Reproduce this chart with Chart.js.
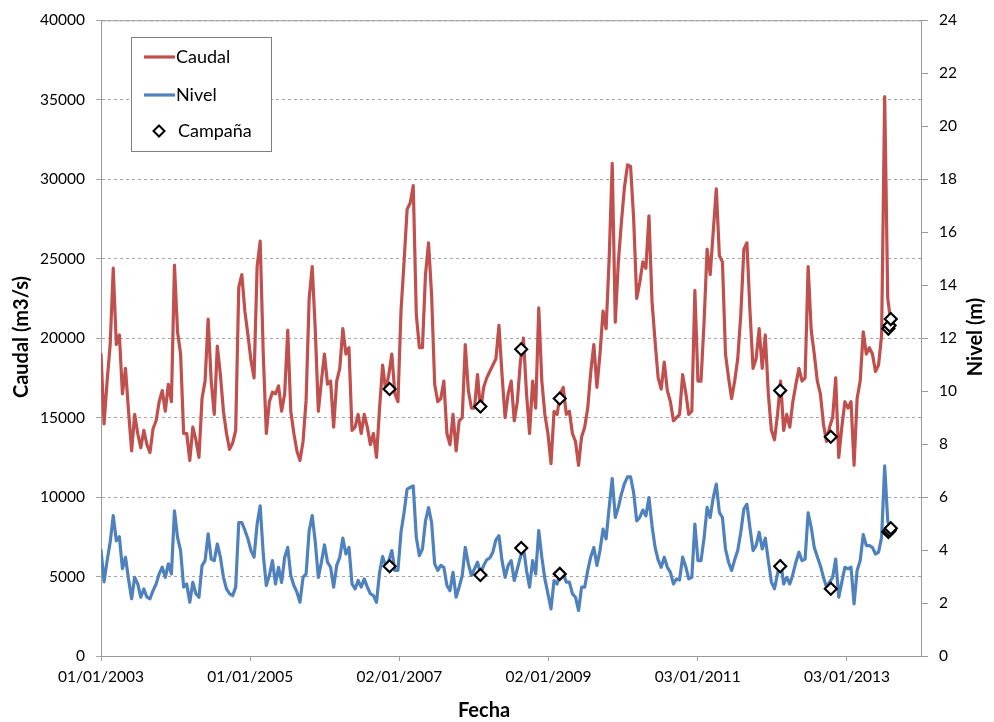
<!DOCTYPE html>
<html>
<head>
<meta charset="utf-8">
<title>Caudal y Nivel</title>
<script src="https://cdn.jsdelivr.net/npm/chart.js@4"></script>
<style>
    body { margin: 0; background: #fff; }
</style>
</head>
<body>
<canvas id="main-chart" width="994" height="722"></canvas>
<script>
// Data (one value every 15 days from 01/01/2003)
const fechaInicio = '2003-01-01';
const pasoDias = 15;

const caudal = [
    19000, 14600, 17300, 19600, 24400, 19600, 20200, 16500, 18100, 15400,
    12900, 15200, 14000, 13100, 14200, 13300, 12800, 14300, 14800, 16000,
    16700, 15400, 17100, 16000, 24600, 20400, 19000, 14000, 14000, 12300,
    14400, 13600, 12500, 16200, 17300, 21200, 17300, 15200, 19500, 17700,
    15400, 14000, 13000, 13400, 14200, 23200, 24000, 21700, 20200, 18600,
    17500, 24500, 26100, 19000, 14000, 16000, 16600, 16500, 17000, 15400,
    16500, 20500, 15400, 14000, 12900, 12300, 13500, 16100, 22500, 24500,
    20500, 15400, 17300, 19000, 17100, 17300, 14400, 17300, 18100, 20600,
    19000, 19400, 14200, 14400, 15200, 14000, 15200, 14400, 13300, 14000,
    12500, 15600, 18300, 16700, 17700, 19000, 16500, 16000, 21700, 24800,
    28100, 28500, 29600, 21500, 19400, 19400, 24000, 26000, 22700, 17100,
    16000, 16200, 17300, 14000, 13300, 15200, 12900, 14800, 15000, 19600,
    16700, 15600, 15600, 17700, 15400, 16900, 17500, 17900, 18300, 18700,
    20800, 17700, 15000, 16500, 17300, 14800, 16000, 18500, 20000, 16500,
    14000, 17300, 15600, 21900, 17300, 15200, 14000, 12100, 15400, 15200,
    16500, 16900, 15200, 15400, 14000, 13500, 12000, 13800, 14400, 15600,
    17900, 19600, 16900, 19000, 21700, 20600, 25000, 31000, 21000, 24800,
    27300, 29500, 30900, 30800, 27500, 22500, 23500, 24800, 24400, 27700,
    22300, 19800, 17500, 16800, 18500, 16700, 16000, 14800, 15000, 15200,
    17700, 16600, 15200, 15400, 23000, 17300, 17300, 21000, 25600, 24000,
    26700, 29400, 25200, 24800, 19000, 17500, 16200, 17300, 18700, 21500,
    25600, 26000, 21700, 18100, 18700, 20600, 18100, 20200, 16500, 14200,
    13600, 15200, 17300, 14200, 15200, 14400, 16000, 17100, 18100, 17300,
    17500, 24500, 20500, 19000, 17300, 16500, 14600, 13500, 14400, 15000,
    17500, 12500, 14400, 16000, 15600, 16000, 12000, 16200, 17300, 20400,
    19000, 19400, 19000, 17900, 18300, 20200, 35200, 22500, 21000
];

const nivel = [
    4.00, 2.80, 3.60, 4.30, 5.30, 4.35, 4.50, 3.30, 3.73, 2.90,
    2.16, 2.97, 2.72, 2.22, 2.53, 2.22, 2.16, 2.47, 2.72, 3.10,
    3.35, 2.97, 3.48, 3.10, 5.48, 4.48, 3.98, 2.60, 2.72, 2.03,
    2.78, 2.35, 2.22, 3.41, 3.60, 4.61, 3.66, 3.60, 4.23, 3.73,
    2.97, 2.53, 2.35, 2.28, 2.60, 5.04, 5.04, 4.75, 4.42, 3.98,
    3.73, 4.98, 5.67, 3.85, 2.66, 3.04, 3.60, 2.72, 3.35, 2.78,
    3.73, 4.10, 3.04, 2.66, 2.41, 2.03, 2.97, 3.10, 4.73, 5.30,
    4.30, 2.97, 3.54, 4.20, 3.54, 3.35, 2.60, 3.42, 3.73, 4.45,
    3.85, 4.10, 2.72, 2.53, 2.85, 2.60, 2.91, 2.60, 2.35, 2.28,
    2.03, 3.16, 3.75, 3.41, 3.60, 3.98, 3.23, 3.23, 4.67, 5.42,
    6.30, 6.36, 6.42, 4.48, 3.79, 4.04, 5.10, 5.60, 5.04, 3.48,
    3.23, 3.42, 3.35, 2.66, 2.47, 3.16, 2.22, 2.60, 3.04, 4.10,
    3.48, 3.04, 3.29, 3.54, 3.10, 3.42, 3.63, 3.70, 3.92, 4.38,
    4.54, 3.60, 2.97, 3.42, 3.60, 2.85, 3.29, 3.73, 4.10, 3.23,
    2.60, 3.60, 3.10, 4.73, 3.73, 2.91, 2.35, 1.78, 2.85, 2.72,
    3.16, 3.10, 2.79, 2.79, 2.35, 2.22, 1.72, 2.60, 2.60, 3.23,
    3.75, 4.10, 3.42, 3.98, 4.79, 4.42, 5.61, 6.70, 5.23, 5.61,
    6.11, 6.51, 6.76, 6.76, 6.17, 5.10, 5.23, 5.51, 5.29, 5.98,
    4.92, 4.10, 3.63, 3.35, 3.73, 3.35, 3.16, 2.72, 2.91, 2.87,
    3.73, 3.38, 2.91, 2.97, 4.98, 3.60, 3.60, 4.45, 5.61, 5.23,
    5.98, 6.49, 5.42, 5.23, 4.04, 3.54, 3.23, 3.63, 3.98, 4.67,
    5.55, 5.73, 4.83, 3.98, 4.17, 4.67, 4.04, 4.45, 3.60, 2.79,
    2.54, 3.10, 3.60, 2.72, 2.97, 2.72, 3.08, 3.54, 3.92, 3.60,
    3.66, 5.40, 4.86, 4.10, 3.75, 3.41, 2.97, 2.60, 2.79, 2.97,
    3.66, 2.22, 2.79, 3.35, 3.29, 3.35, 1.97, 3.23, 3.60, 4.58,
    4.17, 4.17, 4.10, 3.85, 3.92, 4.48, 7.18, 5.10, 4.73
];

// Campaign samples
const campanaFechas = ['2006-11-15', '2008-02-03', '2008-08-21', '2009-02-26', '2012-02-11', '2012-10-16', '2013-07-25', '2013-07-31', '2013-08-06'];
const campanaCaudal = [16800, 15700, 19300, 16200, 16700, 13800, 20600, 20800, 21200];
const campanaNivel = [3.39, 3.06, 4.08, 3.10, 3.39, 2.54, 4.68, 4.74, 4.82];

// Axis ticks
const fechaTicks = ['2003-01-01', '2005-01-01', '2007-01-02', '2009-01-02', '2011-01-03', '2013-01-03'];
const fechaFin = '2014-01-01';

const DAY = 86400000;
const toDays = (s) => {
    const [y, m, d] = s.split('-').map(Number);
    const [y0, m0, d0] = fechaInicio.split('-').map(Number);
    return Math.round((Date.UTC(y, m - 1, d) - Date.UTC(y0, m0 - 1, d0)) / DAY);
};
const fmtDate = (days) => {
    const [y0, m0, d0] = fechaInicio.split('-').map(Number);
    const dt = new Date(Date.UTC(y0, m0 - 1, d0) + days * DAY);
    const p = (n) => String(n).padStart(2, '0');
    return `${p(dt.getUTCDate())}/${p(dt.getUTCMonth() + 1)}/${dt.getUTCFullYear()}`;
};

const FONT = 'Lato, "Open Sans", sans-serif';
const AXIS_COLOR = '#9a9a9a';
const LINE_W = 3.2;

// Titles, top border and legend box
const extrasPlugin = {
    id: 'extras',
    afterDraw(chart) {
        const { ctx, chartArea } = chart;
        ctx.save();

        // solid top line of the plot area
        ctx.strokeStyle = AXIS_COLOR;
        ctx.lineWidth = 1;
        ctx.beginPath();
        ctx.moveTo(chartArea.left, chartArea.top + 0.5);
        ctx.lineTo(chartArea.right, chartArea.top + 0.5);
        ctx.stroke();

        // axis titles
        ctx.fillStyle = '#000';
        ctx.font = `bold 20px ${FONT}`;
        ctx.textAlign = 'center';
        ctx.textBaseline = 'middle';
        ctx.fillText('Fecha', 484, 711);

        ctx.save();
        ctx.translate(22, 337);
        ctx.rotate(-Math.PI / 2);
        ctx.fillText('Caudal (m3/s)', 0, 0);
        ctx.restore();

        ctx.save();
        ctx.translate(976, 337);
        ctx.rotate(-Math.PI / 2);
        ctx.fillText('Nivel (m)', 0, 0);
        ctx.restore();

        // legend
        ctx.fillStyle = '#fff';
        ctx.fillRect(131, 37, 141, 115);
        ctx.strokeStyle = '#7f7f7f';
        ctx.lineWidth = 1;
        ctx.strokeRect(131.5, 37.5, 140, 114);

        ctx.font = `18px ${FONT}`;
        ctx.textAlign = 'left';
        ctx.lineWidth = LINE_W;
        ctx.strokeStyle = '#C0504D';
        ctx.beginPath();
        ctx.moveTo(144, 57);
        ctx.lineTo(175, 57);
        ctx.stroke();
        ctx.strokeStyle = '#4F81BD';
        ctx.beginPath();
        ctx.moveTo(144, 95);
        ctx.lineTo(175, 95);
        ctx.stroke();

        ctx.lineWidth = 2;
        ctx.strokeStyle = '#000';
        ctx.fillStyle = '#fff';
        ctx.beginPath();
        ctx.moveTo(159, 125.5);
        ctx.lineTo(164.5, 131);
        ctx.lineTo(159, 136.5);
        ctx.lineTo(153.5, 131);
        ctx.closePath();
        ctx.fill();
        ctx.stroke();

        ctx.fillStyle = '#000';
        ctx.fillText('Caudal', 176, 57);
        ctx.fillText('Nivel', 176, 95);
        ctx.fillText('Campaña', 178, 131);

        ctx.restore();
    }
};

window.addEventListener('load', () => {
    const canvas = document.getElementById('main-chart');

    const serie = (values) => values.map((v, i) => ({ x: i * pasoDias, y: v }));
    const campana = (values) => values.map((v, i) => ({ x: toDays(campanaFechas[i]), y: v }));

    const markerStyle = {
        showLine: false,
        pointStyle: 'rectRot',
        pointRadius: 6,
        pointBorderWidth: 2.2,
        pointBorderColor: '#000',
        pointBackgroundColor: '#fff',
        borderColor: '#000',
        backgroundColor: '#fff',
        order: 0
    };

    const plainTick = (v) => String(v);

    new Chart(canvas, {
        type: 'line',
        data: {
            datasets: [{
                label: 'Campaña',
                data: campana(campanaCaudal),
                yAxisID: 'y',
                ...markerStyle
            }, {
                label: 'Campaña',
                data: campana(campanaNivel),
                yAxisID: 'y1',
                ...markerStyle
            }, {
                label: 'Caudal',
                data: serie(caudal),
                yAxisID: 'y',
                borderColor: '#C0504D',
                borderWidth: LINE_W,
                pointRadius: 0,
                borderJoinStyle: 'round',
                borderCapStyle: 'round',
                order: 2
            }, {
                label: 'Nivel',
                data: serie(nivel),
                yAxisID: 'y1',
                borderColor: '#4F81BD',
                borderWidth: LINE_W,
                pointRadius: 0,
                borderJoinStyle: 'round',
                borderCapStyle: 'round',
                order: 1
            }]
        },
        options: {
            responsive: false,
            animation: false,
            devicePixelRatio: 1,
            layout: { padding: { top: 18, left: 0, right: 0, bottom: 0 } },
            plugins: {
                legend: { display: false },
                tooltip: { enabled: false }
            },
            scales: {
                x: {
                    type: 'linear',
                    min: 0,
                    max: toDays(fechaFin),
                    afterBuildTicks: (scale) => {
                        scale.ticks = fechaTicks.map(s => ({ value: toDays(s) }));
                    },
                    afterFit: (scale) => { scale.height = 66; },
                    ticks: {
                        autoSkip: false,
                        maxRotation: 0,
                        padding: 7,
                        color: '#000',
                        font: { family: FONT, size: 15.5 },
                        callback: (v) => fmtDate(v)
                    },
                    grid: { drawOnChartArea: false, tickLength: 5, color: AXIS_COLOR },
                    border: { color: AXIS_COLOR }
                },
                y: {
                    position: 'left',
                    min: 0,
                    max: 40000,
                    afterFit: (scale) => { scale.width = 101; },
                    ticks: {
                        stepSize: 5000,
                        padding: 11,
                        color: '#000',
                        font: { family: FONT, size: 15.5 },
                        callback: plainTick
                    },
                    grid: { color: '#a6a6a6', tickLength: 5 },
                    border: { color: AXIS_COLOR, dash: [3, 3] }
                },
                y1: {
                    position: 'right',
                    min: 0,
                    max: 24,
                    afterFit: (scale) => { scale.width = 73; },
                    ticks: {
                        stepSize: 2,
                        padding: 11,
                        color: '#000',
                        font: { family: FONT, size: 15.5 },
                        callback: plainTick
                    },
                    grid: { drawOnChartArea: false, tickLength: 7, color: AXIS_COLOR },
                    border: { color: AXIS_COLOR }
                }
            }
        },
        plugins: [extrasPlugin]
    });
});
</script>
</body>
</html>
